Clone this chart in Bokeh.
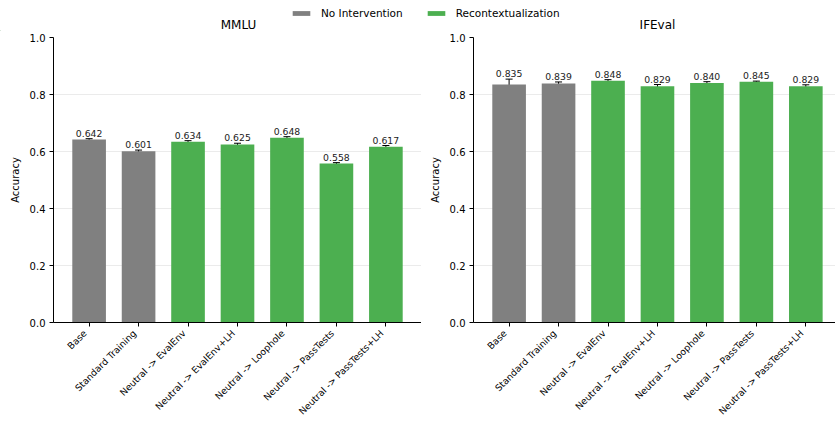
import math
from bokeh.plotting import figure
from bokeh.models import (ColumnDataSource, Range1d, FixedTicker, PrintfTickFormatter,
                          Whisker, TeeHead, Label, Legend, LegendItem, LinearAxis)
from bokeh.layouts import column, row
from bokeh.embed import file_html
from bokeh.resources import INLINE
from bokeh.core.properties import value

categories = ["Base", "Standard Training", "Neutral -> EvalEnv", "Neutral -> EvalEnv+LH",
              "Neutral -> Loophole", "Neutral -> PassTests", "Neutral -> PassTests+LH"]
groups = ["No Intervention", "No Intervention", "Recontextualization", "Recontextualization",
          "Recontextualization", "Recontextualization", "Recontextualization"]

mmlu_acc = [0.642, 0.601, 0.634, 0.625, 0.648, 0.558, 0.617]
mmlu_err = [0.003, 0.004, 0.004, 0.004, 0.004, 0.003, 0.004]

ifeval_acc = [0.835, 0.839, 0.848, 0.829, 0.840, 0.845, 0.829]
ifeval_err = [0.019, 0.005, 0.004, 0.006, 0.005, 0.002, 0.005]

y_ticks = [0.0, 0.2, 0.4, 0.6, 0.8, 1.0]

COLORS = {"No Intervention": "#808080", "Recontextualization": "#4caf50"}
FONT = "DejaVu Sans"
LABEL_SHIFT = 0.085  # matplotlib-style right-aligned rotated labels


def make_panel(acc, err, total_w, border_left, border_right, x_end):
    xs = list(range(len(categories)))
    src = ColumnDataSource(dict(
        x=xs, top=acc,
        color=[COLORS[g] for g in groups],
        upper=[a + e for a, e in zip(acc, err)],
        lower=[a - e for a, e in zip(acc, err)],
        label=[f"{a:.3f}" for a in acc],
    ))
    p = figure(width=total_w, height=392, output_backend="svg", toolbar_location=None,
               x_range=Range1d(-0.72, x_end), y_range=Range1d(0, 1.0),
               min_border_left=border_left, min_border_right=border_right, min_border_top=6,
               min_border_bottom=100)
    p.extra_x_ranges = {"lab": Range1d(-0.72 + LABEL_SHIFT, x_end + LABEL_SHIFT)}
    p.outline_line_color = None
    p.background_fill_color = "white"
    p.vbar(x="x", top="top", bottom=0, width=0.68, color="color", line_color=None, source=src)
    wh = Whisker(base="x", upper="upper", lower="lower", source=src,
                 line_color="black", line_width=1,
                 upper_head=TeeHead(size=7, line_color="black", line_width=1),
                 lower_head=TeeHead(size=7, line_color="black", line_width=1))
    p.add_layout(wh)
    p.text(x="x", y="upper", text="label", source=src, text_align="center",
           text_baseline="bottom", y_offset=-2, text_font_size="9.3px",
           text_font=value(FONT), text_color="#222222")

    p.xgrid.visible = False
    p.ygrid.grid_line_color = "#e6e6e6"
    p.ygrid.grid_line_width = 0.8
    p.ygrid.ticker = FixedTicker(ticks=y_ticks)

    p.yaxis.ticker = FixedTicker(ticks=y_ticks)
    p.yaxis.formatter = PrintfTickFormatter(format="%.1f")
    p.yaxis.axis_label = "Accuracy"
    p.yaxis.axis_label_text_font_style = "normal"
    p.yaxis.axis_label_text_font_size = "10px"
    p.yaxis.axis_label_text_font = FONT
    p.yaxis.axis_label_text_color = "black"
    p.yaxis.axis_label_standoff = 6
    p.yaxis.major_label_standoff = 4

    # tick marks only
    p.xaxis.ticker = FixedTicker(ticks=xs)
    p.xaxis.major_label_overrides = {i: "" for i in xs}
    p.xaxis.major_label_text_font_size = "1px"
    p.xaxis.major_label_standoff = 0

    for ax in (p.xaxis[0], p.yaxis[0]):
        ax.axis_line_color = "black"
        ax.axis_line_width = 1
        ax.major_tick_line_color = "black"
        ax.major_tick_in = 0
        ax.major_tick_out = 4
        ax.minor_tick_line_color = None
        ax.major_label_text_color = "black"
        ax.major_label_text_font = FONT
    p.yaxis.major_label_text_font_size = "10px"

    # labels axis (rotated, right-aligned to the ticks)
    lab = LinearAxis(x_range_name="lab", ticker=FixedTicker(ticks=xs),
                     major_label_overrides={i: c for i, c in enumerate(categories)},
                     major_label_orientation=math.pi / 4, major_label_standoff=5,
                     major_label_text_font_size="9.3px", major_label_text_font=FONT,
                     major_label_text_color="black",
                     axis_line_color=None, major_tick_line_color=None,
                     minor_tick_line_color=None, major_tick_out=0, major_tick_in=0)
    p.add_layout(lab, "below")
    return p


p1 = make_panel(mmlu_acc, mmlu_err, 421, 53, 0, 6.72)
p2 = make_panel(ifeval_acc, ifeval_err, 414, 52, 0, 6.60)

# header with titles and legend
head = figure(width=835, height=31, output_backend="svg", toolbar_location=None,
              x_range=Range1d(0, 835), y_range=Range1d(0, 31),
              min_border_left=0, min_border_right=0, min_border_top=0, min_border_bottom=0)
head.axis.visible = False
head.grid.visible = False
head.outline_line_color = None

items = []
for g in ["No Intervention", "Recontextualization"]:
    r = head.vbar(x=[-1000], top=[1], width=1, color=COLORS[g], line_color=None)
    items.append(LegendItem(label=g, renderers=[r]))
leg = Legend(items=items, orientation="horizontal", location=(290, 12),
             border_line_color=None, background_fill_alpha=0, padding=0, margin=0,
             glyph_width=22, glyph_height=6, label_height=12, label_standoff=9, spacing=22,
             label_text_font_size="10.5px", label_text_font=FONT, label_text_color="black")
head.add_layout(leg)

titles = ["MMLU", "IFEval"]
for t, xc in zip(titles, [238, 657]):
    head.add_layout(Label(x=xc, y=6.5, text=t, text_align="center", text_baseline="middle",
                          text_font_size="12px", text_font=FONT, text_font_style="normal",
                          text_color="black"))

layout = column(head, row(p1, p2, spacing=0), spacing=0)
open("out.html", "w").write(file_html(layout, INLINE))
